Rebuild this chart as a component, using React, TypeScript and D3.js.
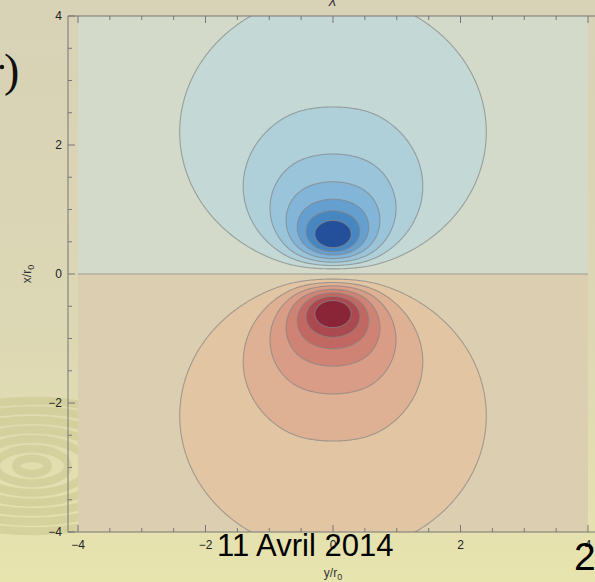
import React, { useMemo } from 'react';
import * as d3 from 'd3';

// contour crossings on the vertical axis (x/r0, upper half), outer -> inner
const contourTops = [4.32, 2.59, 1.86, 1.43, 1.16, 0.98, 0.83];
// field shape parameters
const coreSize2 = 0.34;
const spreadNear = 0.54;
const spreadFar = 0.24;
const spreadW4 = 0.32;

// fill bands, outer (background) -> inner
const blueBands = ['#d3dac9', '#c4d8d5', '#afcfd9', '#99c4da', '#82b5d8', '#659fcf', '#4787c1', '#24509b'];
const redBands = ['#dccfb1', '#e2c5a3', '#deb195', '#d89c87', '#cf8375', '#c16862', '#aa494f', '#8a2538'];

const majorTicks = [-4, -2, 0, 2, 4];
const minorTicks = d3.range(-4, 4.001, 0.5);
const rippleRadii = [16, 36, 56, 76, 96, 116, 136];

const W = 595;
const H = 582;

function field(u: number, v: number) {
  const u2 = u * u;
  const k = spreadNear + (spreadFar * u2 * u2) / (u2 * u2 + spreadW4);
  return v / (v * v + coreSize2 + u2 * k);
}

const fmt = (d: number) => (d < 0 ? '\u2212' + Math.abs(d) : String(d));

export default function App() {
  const x = d3.scaleLinear().domain([-4, 4]).range([78, 588]);
  const y = d3.scaleLinear().domain([-4, 4]).range([532, 16]);

  const { paths, fills } = useMemo(() => {
    const lo = -4.3, step = 0.02;
    const n = Math.round((2 * -lo) / step) + 1;
    const values = new Float64Array(n * n);
    for (let j = 0; j < n; j++) {
      const v = -lo - j * step;
      for (let i = 0; i < n; i++) {
        values[j * n + i] = field(lo + i * step, v);
      }
    }
    const levels = contourTops.map((t) => field(0, t));
    const th = [...levels.map((l) => -l).reverse(), 0, ...levels];
    const contours = d3.contours().size([n, n]).thresholds(th)(Array.from(values));
    const proj = d3.geoTransform({
      point(px, py) {
        this.stream.point(x(lo + (px - 0.5) * step), y(-lo - (py - 0.5) * step));
      },
    });
    const path = d3.geoPath(proj);
    const fills = th.map((_, i) => (i < 7 ? redBands[6 - i] : blueBands[i - 7]));
    return { paths: contours.map((c) => path(c as any) || ''), fills };
  }, []);

  return (
    <svg width={W} height={H} style={{ position: 'absolute', left: 0, top: 0 }}
      fontFamily="'Liberation Sans', Arial, sans-serif">
      <defs>
        <linearGradient id="bg" x1="0" y1="0" x2="0" y2="1">
          <stop offset="0" stopColor="#d8d2b7" />
          <stop offset="0.55" stopColor="#dcd7b4" />
          <stop offset="1" stopColor="#e7e4ae" />
        </linearGradient>
        <clipPath id="plot">
          <rect x={x(-4)} y={y(4)} width={x(4) - x(-4)} height={y(-4) - y(4)} />
        </clipPath>
      </defs>
      <rect width={W} height={H} fill="url(#bg)" />
      <g fill="none" stroke="#d0cc96" strokeWidth={8} opacity={0.7}>
        {rippleRadii.map((r) => (
          <ellipse key={r} cx={32} cy={466} rx={r} ry={r * 0.48} />
        ))}
      </g>

      <circle cx={2} cy={67} r={2.2} fill="#111" />
      <text x={4} y={86} fontSize={46} fontFamily="'Liberation Serif', serif" fill="#111">)</text>

      <g clipPath="url(#plot)">
        <rect x={0} y={0} width={W} height={H} fill={redBands[7]} />
        {paths.map((d, i) => (
          <path key={i} d={d} fill={fills[i]} stroke="#858585" strokeOpacity={0.7} strokeWidth={1.1} />
        ))}
      </g>

      <g stroke="#777" strokeWidth={1} fill="none">
        <line x1={68} x2={W} y1={y(-4)} y2={y(-4)} />
        <line x1={68} x2={W} y1={y(4)} y2={y(4)} />
        <line x1={68} x2={68} y1={y(4)} y2={y(-4)} />
        {minorTicks.map((t) => {
          const len = majorTicks.includes(t) ? 7 : 4;
          return (
            <g key={t}>
              <line x1={x(t)} x2={x(t)} y1={y(-4)} y2={y(-4) - len} />
              <line x1={x(t)} x2={x(t)} y1={y(4)} y2={y(4) + len} />
              <line x1={68} x2={68 + len} y1={y(t)} y2={y(t)} />
            </g>
          );
        })}
      </g>

      <g fontSize={12} fill="#222">
        {majorTicks.map((t) => (
          <text key={'x' + t} x={x(t)} y={549} textAnchor="middle">{fmt(t)}</text>
        ))}
        {majorTicks.map((t) => (
          <text key={'y' + t} x={62} y={y(t) + 4} textAnchor="end">{fmt(t)}</text>
        ))}
      </g>

      <text x={x(0)} y={577} fontSize={12} textAnchor="middle" fill="#333">
        y/r<tspan fontSize={9} dy={3}>0</tspan>
      </text>
      <text transform={`translate(31,${y(0)}) rotate(-90)`} fontSize={12} textAnchor="middle" fill="#333">
        x/r<tspan fontSize={9} dy={3}>0</tspan>
      </text>
      <text x={x(0)} y={3} fontSize={14} textAnchor="middle" fill="#333" fontStyle="italic">χ</text>

      <text x={217} y={556} fontSize={31} fill="#000">11 Avril 2014</text>
      <text x={574} y={570} fontSize={39} fill="#000">2</text>
    </svg>
  );
}
